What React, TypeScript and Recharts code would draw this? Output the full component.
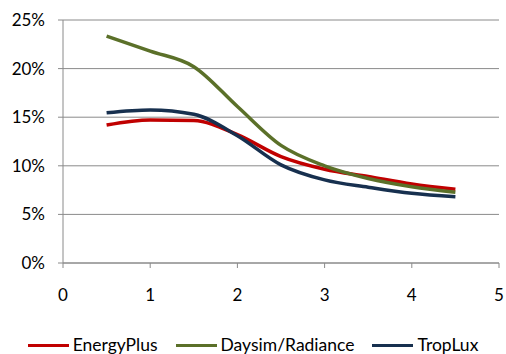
import { LineChart, Line, XAxis, YAxis, CartesianGrid } from 'recharts'

const xs = [0.5, 1, 1.5, 2, 2.5, 3, 3.5, 4, 4.5]
const energyPlus = [0.142, 0.1472, 0.1465, 0.132, 0.1095, 0.0965, 0.089, 0.0813, 0.0758]
const daysim = [0.2335, 0.218, 0.202, 0.161, 0.121, 0.1, 0.087, 0.0785, 0.0727]
const tropLux = [0.1546, 0.1575, 0.153, 0.131, 0.101, 0.0855, 0.078, 0.0717, 0.0682]
const xTicks = [0, 1, 2, 3, 4, 5]
const yTicks = [0, 0.05, 0.1, 0.15, 0.2, 0.25]

const series = [
  { key: 'energyPlus', name: 'EnergyPlus', color: '#C00000' },
  { key: 'daysim', name: 'Daysim/Radiance', color: '#5B7029' },
  { key: 'tropLux', name: 'TropLux', color: '#17304F' },
]

const data = xs.map((x, i) => ({ x, energyPlus: energyPlus[i], daysim: daysim[i], tropLux: tropLux[i] }))

const font = 'Lato, "Open Sans", sans-serif'

// legend sits under the axis, items spaced like the original
function LegendBox() {
  return (
    <div style={{ position: 'absolute', left: 0, top: 335, width: 506, display: 'flex', justifyContent: 'center', gap: 18, fontFamily: font, fontSize: 17.5, lineHeight: '20px', color: '#000' }}>
      {series.map(s => (
        <div key={s.key} style={{ display: 'flex', alignItems: 'center' }}>
          <span style={{ display: 'inline-block', width: 41, height: 3, background: s.color, marginRight: 4 }} />
          <span>{s.name}</span>
        </div>
      ))}
    </div>
  )
}

export default function App() {
  return (
    <div style={{ position: 'absolute', left: 0, top: 0, width: 506, height: 354, background: '#fff' }}>
      <LineChart width={506} height={354} data={data} margin={{ top: 20, right: 7, left: 0, bottom: 51 }}>
        <CartesianGrid vertical={false} stroke="#8a8a8a" strokeWidth={1} />
        <XAxis
          dataKey="x" type="number" domain={[0, 5]} ticks={xTicks} height={40}
          stroke="#8a8a8a" tickSize={5} tickMargin={21}
          tick={{ fill: '#000', fontSize: 17, fontFamily: font }}
        />
        <YAxis
          type="number" domain={[0, 0.25]} ticks={yTicks} width={63}
          stroke="#8a8a8a" tickSize={5} tickMargin={13}
          tickFormatter={(v: number) => `${Math.round(v * 100)}%`}
          tick={{ fill: '#000', fontSize: 17, fontFamily: font }}
        />
        {series.map(s => (
          <Line key={s.key} dataKey={s.key} name={s.name} type="monotone" stroke={s.color}
            strokeWidth={3.5} dot={false} isAnimationActive={false} />
        ))}
      </LineChart>
      <LegendBox />
    </div>
  )
}
